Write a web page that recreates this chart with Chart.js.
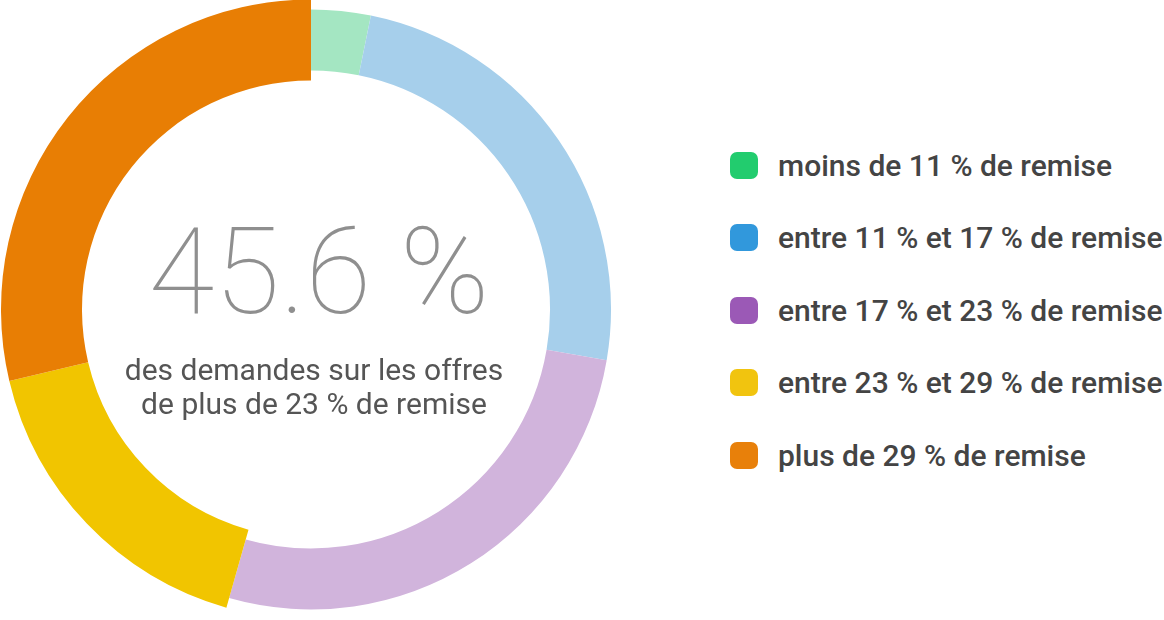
<!DOCTYPE html>
<html lang="fr">
<head>
<meta charset="utf-8">
<title>Demandes par niveau de remise</title>
<script src="https://cdn.jsdelivr.net/npm/chart.js@4.4.1/dist/chart.umd.min.js"></script>
<style>
    html, body {
        margin: 0;
        padding: 0;
        background: #ffffff;
        width: 1164px;
        height: 620px;
        overflow: hidden;
        font-family: Roboto, "Noto Sans", sans-serif;
    }
    #chart-wrap {
        position: absolute;
        left: 0;
        top: 0;
        width: 622px;
        height: 619px;
    }
    #legend {
        position: absolute;
        left: 730px;
        top: 129px;
        margin: 0;
        padding: 0;
        list-style: none;
    }
    #legend li {
        display: flex;
        align-items: center;
        height: 72.5px;
        font-weight: 500;
        font-size: 30px;
        color: #444444;
        white-space: nowrap;
    }
    #legend .swatch {
        width: 28px;
        height: 27px;
        border-radius: 7px;
        margin-right: 20px;
        flex: none;
    }
</style>
</head>
<body>
<div id="chart-wrap"><canvas id="remiseChart"></canvas></div>
<ul id="legend"></ul>

<script>
// Data
const categories = [
    'moins de 11 % de remise',
    'entre 11 % et 17 % de remise',
    'entre 17 % et 23 % de remise',
    'entre 23 % et 29 % de remise',
    'plus de 29 % de remise'
];
const shares = [3.2, 24.5, 26.7, 16.9, 28.7];
const highlight = [false, false, false, true, true];

const legendColors = ['#22cc6e', '#3198dc', '#9b59b6', '#f1c40f', '#e8800a'];
const sliceColors = ['#a4e6c2', '#a6cfeb', '#d1b4dc', '#f1c500', '#e87e04'];

const headline = '45.6 %';
const subline = ['des demandes sur les offres', 'de plus de 23 % de remise'];

// Make the highlighted slices a bit thicker (10px out, 10px in)
const widenPlugin = {
    id: 'widenHighlighted',
    afterDatasetsUpdate(chart) {
        const meta = chart.getDatasetMeta(0);
        meta.data.forEach((arc, i) => {
            if (highlight[i]) {
                arc.outerRadius += 10;
                arc.innerRadius -= 10;
            }
        });
    }
};

// Text in the hole
const centerTextPlugin = {
    id: 'centerText',
    afterDraw(chart) {
        const ctx = chart.ctx;
        const arc = chart.getDatasetMeta(0).data[0];
        const cx = arc.x;
        const cy = arc.y;
        ctx.save();
        ctx.textAlign = 'center';
        ctx.textBaseline = 'alphabetic';
        ctx.fillStyle = '#8f8f8f';
        ctx.font = '100 120px Roboto';
        ctx.fillText(headline, cx + 8, cy + 3.5);
        ctx.fillStyle = '#555555';
        ctx.font = '400 30px Roboto';
        ctx.fillText(subline[0], cx + 3, cy + 70);
        ctx.fillText(subline[1], cx + 3, cy + 104.5);
        ctx.restore();
    }
};

const remiseCtx = document.getElementById('remiseChart');
new Chart(remiseCtx, {
    type: 'doughnut',
    data: {
        labels: categories,
        datasets: [{
            data: shares,
            backgroundColor: sliceColors,
            borderWidth: 0,
            hoverOffset: 0
        }]
    },
    options: {
        responsive: true,
        maintainAspectRatio: false,
        animation: false,
        events: [],
        radius: 300,
        cutout: '79.67%',
        layout: { padding: 0 },
        plugins: {
            legend: { display: false },
            tooltip: { enabled: false }
        }
    },
    plugins: [widenPlugin, centerTextPlugin]
});

// HTML legend
const legendEl = document.getElementById('legend');
categories.forEach((label, i) => {
    const li = document.createElement('li');
    const swatch = document.createElement('span');
    swatch.className = 'swatch';
    swatch.style.background = legendColors[i];
    li.appendChild(swatch);
    li.appendChild(document.createTextNode(label));
    legendEl.appendChild(li);
});
</script>
</body>
</html>
